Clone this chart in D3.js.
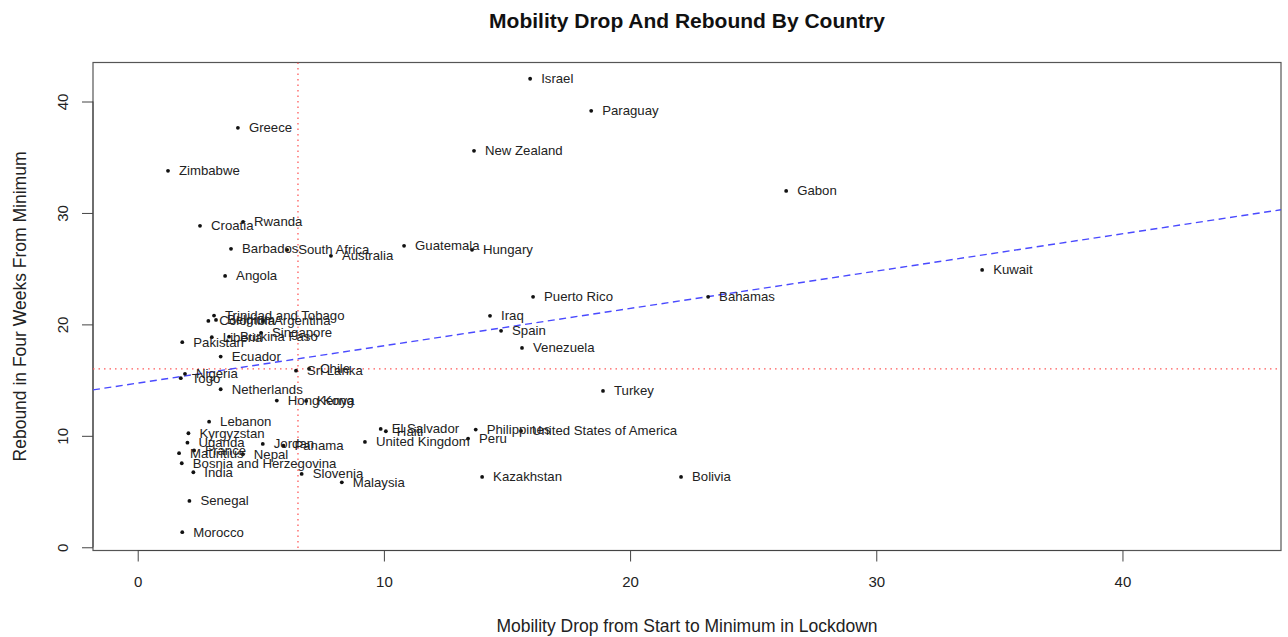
<!DOCTYPE html>
<html>
<head>
<meta charset="utf-8">
<script src="https://cdn.jsdelivr.net/npm/d3@7"></script>
<style>
  html, body { margin: 0; padding: 0; background: #fff; }
  svg { display: block; font-family: "Liberation Sans", Arial, Helvetica, sans-serif; }
</style>
</head>
<body>
<svg id="chart" width="1288" height="637"></svg>
<script>
// Country mobility figures: drop into lockdown vs. rebound four weeks after the minimum
const countries = [
  "Israel", "Paraguay", "Greece", "New Zealand", "Zimbabwe", "Gabon",
  "Croatia", "Rwanda", "Barbados", "South Africa", "Australia", "Guatemala",
  "Hungary", "Angola", "Kuwait", "Puerto Rico", "Bahamas", "Iraq",
  "Spain", "Venezuela", "Turkey", "Bolivia", "Kazakhstan", "Peru",
  "Philippines", "United States of America", "El Salvador", "Haiti", "United Kingdom", "Malaysia",
  "Slovenia", "Panama", "Jordan", "Nepal", "France", "Mauritius",
  "Uganda", "Kyrgyzstan", "Lebanon", "Bosnia and Herzegovina", "India", "Senegal",
  "Morocco", "Hong Kong", "Kenya", "Netherlands", "Nigeria", "Togo",
  "Sri Lanka", "Chile", "Ecuador", "Pakistan", "Liberia", "Burkina Faso",
  "Singapore", "Trinidad and Tobago", "Colombia", "Belgium", "Argentina"
];
const mobilityDrop = [
  15.94, 18.42, 4.07, 13.66, 1.23, 26.34,
  2.53, 4.28, 3.79, 6.07, 7.85, 10.82,
  13.58, 3.55, 34.30, 16.06, 23.17, 14.31,
  14.76, 15.61, 18.90, 22.07, 13.99, 13.42,
  13.73, 15.57, 9.87, 10.08, 9.23, 8.29,
  6.66, 5.92, 5.08, 4.27, 2.29, 1.68,
  2.02, 2.06, 2.90, 1.79, 2.26, 2.10,
  1.81, 5.65, 6.84, 3.37, 1.92, 1.75,
  6.43, 6.96, 3.37, 1.81, 3.01, 3.71,
  5.01, 3.10, 2.87, 3.18, 5.09
];
const rebound = [
  42.04, 39.16, 37.64, 35.57, 33.78, 31.98,
  28.84, 29.20, 26.78, 26.69, 26.15, 27.05,
  26.69, 24.35, 24.89, 22.47, 22.47, 20.77,
  19.42, 17.89, 14.03, 6.31, 6.31, 9.75,
  10.56, 10.44, 10.62, 10.41, 9.45, 5.83,
  6.58, 9.12, 9.27, 8.35, 8.69, 8.44,
  9.39, 10.23, 11.27, 7.54, 6.73, 4.16,
  1.35, 13.16, 13.13, 14.18, 15.56, 15.17,
  15.85, 16.01, 17.11, 18.40, 18.85, 18.90,
  19.24, 20.79, 20.31, 20.40, 20.31
];
const xTicks = [0, 10, 20, 30, 40];
const yTicks = [0, 10, 20, 30, 40];

// Reference lines: averages and the least-squares fit
const dropReference = 6.51;
const reboundReference = 16.0;
const fitIntercept = 14.73;
const fitSlope = 0.335;

const titleText = "Mobility Drop And Rebound By Country";
const xTitle = "Mobility Drop from Start to Minimum in Lockdown";
const yTitle = "Rebound in Four Weeks From Minimum";

const svg = d3.select("#chart");
const box = { left: 93, right: 1281, top: 62.5, bottom: 550.5 };

const x = d3.scaleLinear().domain([-1.816, 46.44]).range([box.left, box.right]);
const y = d3.scaleLinear().domain([-0.29, 43.5]).range([box.bottom, box.top]);

// Plot frame
svg.append("rect")
  .attr("x", box.left).attr("y", box.top)
  .attr("width", box.right - box.left).attr("height", box.bottom - box.top)
  .attr("fill", "none").attr("stroke", "#555").attr("stroke-width", 1.2);

// Axes
const xAxis = svg.append("g")
  .attr("transform", `translate(0,${box.bottom})`)
  .call(d3.axisBottom(x).tickValues(xTicks).tickSize(11).tickPadding(15).tickSizeOuter(0));
const yAxis = svg.append("g")
  .attr("transform", `translate(${box.left},0)`)
  .call(d3.axisLeft(y).tickValues(yTicks).tickSize(11).tickSizeOuter(0));

[xAxis, yAxis].forEach(g => {
  g.select(".domain").attr("d", null);
  g.selectAll(".tick line").attr("stroke", "#444");
  g.selectAll(".tick text").attr("fill", "#222").style("font-size", "15px")
    .style("font-family", "'Liberation Sans', Arial, sans-serif");
});
// axis lines run from the first to the last tick, as in base graphics
xAxis.append("line").attr("x1", x(xTicks[0])).attr("x2", x(xTicks[xTicks.length - 1]))
  .attr("y1", 0).attr("y2", 0).attr("stroke", "#444");
yAxis.append("line").attr("y1", y(yTicks[0])).attr("y2", y(yTicks[yTicks.length - 1]))
  .attr("x1", 0).attr("x2", 0).attr("stroke", "#444");

// Rotated y tick labels
yAxis.selectAll(".tick text")
  .attr("x", null).attr("dy", null)
  .attr("text-anchor", "middle")
  .attr("transform", "translate(-31,0) rotate(-90)")
  .attr("dominant-baseline", "central");

// Clip for reference lines
svg.append("clipPath").attr("id", "plotClip")
  .append("rect").attr("x", box.left).attr("y", box.top)
  .attr("width", box.right - box.left).attr("height", box.bottom - box.top);

const lines = svg.append("g").attr("clip-path", "url(#plotClip)");
lines.append("line")
  .attr("x1", x(dropReference)).attr("x2", x(dropReference))
  .attr("y1", box.top).attr("y2", box.bottom)
  .attr("stroke", "#ff5a5a").attr("stroke-width", 1.3).attr("stroke-dasharray", "1.5,4");
lines.append("line")
  .attr("x1", box.left).attr("x2", box.right)
  .attr("y1", y(reboundReference)).attr("y2", y(reboundReference))
  .attr("stroke", "#ff5a5a").attr("stroke-width", 1.3).attr("stroke-dasharray", "1.5,4");

const [xd0, xd1] = x.domain();
lines.append("line")
  .attr("x1", x(xd0)).attr("y1", y(fitIntercept + fitSlope * xd0))
  .attr("x2", x(xd1)).attr("y2", y(fitIntercept + fitSlope * xd1))
  .attr("stroke", "#4a4aff").attr("stroke-width", 1.4).attr("stroke-dasharray", "7,4.5");

// Points and country labels
const points = countries.map((c, i) => ({ name: c, drop: mobilityDrop[i], rebound: rebound[i] }));

svg.append("g").selectAll("circle").data(points).join("circle")
  .attr("cx", d => x(d.drop)).attr("cy", d => y(d.rebound))
  .attr("r", 1.9).attr("fill", "#111");

svg.append("g").selectAll("text").data(points).join("text")
  .attr("x", d => x(d.drop) + 11).attr("y", d => y(d.rebound))
  .attr("dominant-baseline", "central")
  .style("font-size", "13.2px").attr("fill", "#222")
  .text(d => d.name);

// Titles
svg.append("text")
  .attr("x", (box.left + box.right) / 2).attr("y", 20)
  .attr("text-anchor", "middle").attr("dominant-baseline", "central")
  .style("font-size", "21px").style("font-weight", "bold").attr("fill", "#111")
  .text(titleText);

svg.append("text")
  .attr("x", (box.left + box.right) / 2).attr("y", 626)
  .attr("text-anchor", "middle").attr("dominant-baseline", "central")
  .style("font-size", "17.5px").attr("fill", "#222")
  .text(xTitle);

svg.append("text")
  .attr("transform", `translate(20,${(box.top + box.bottom) / 2}) rotate(-90)`)
  .attr("text-anchor", "middle").attr("dominant-baseline", "central")
  .style("font-size", "17.5px").attr("fill", "#222")
  .text(yTitle);
</script>
</body>
</html>
